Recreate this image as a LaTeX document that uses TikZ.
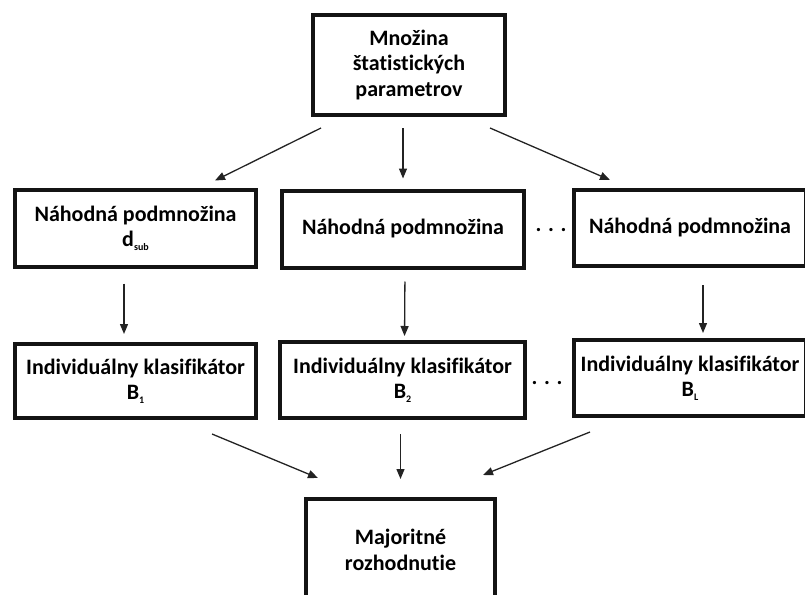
\documentclass[tikz,border=0pt]{standalone}
\usepackage{fontspec}
\setmainfont{Carlito}[Ligatures=NoCommon]
\usetikzlibrary{arrows.meta,calc}

\definecolor{boxline}{RGB}{20,20,20}
\definecolor{arrowline}{RGB}{35,35,35}

\newcommand{\lowidx}[1]{\raisebox{-0.35ex}{\fontsize{10}{10}\selectfont #1}}

\begin{document}
\begin{tikzpicture}[
  x=1pt, y=-1pt,
  stage/.style={
    rectangle,
    draw=boxline,
    line width=4pt,
    minimum width=242pt,
    minimum height=77pt,
    inner sep=0pt,
    align=center,
    font=\fontsize{22}{25.5}\selectfont\bfseries
  },
  flow/.style={
    draw=arrowline,
    line width=1.3pt,
    -{Triangle[length=10pt,width=8pt]}
  },
  gap/.style={
    font=\fontsize{22}{25.5}\selectfont\bfseries
  }
]
\useasboundingbox (0,0) rectangle (805,594);

\node[stage, minimum width=192pt, minimum height=100pt] (top) at (409,65) {Množina\\štatistických\\parametrov};

\node[stage, minimum width=241pt] (n1) at (135.5,228) {Náhodná podmnožina\\d\lowidx{sub}};
\node[stage] (n2) at (403,229) {Náhodná podmnožina};
\node[stage, minimum width=232pt, minimum height=76pt] (n3) at (690,228) {Náhodná podmnožina};
\node[gap] (dots1) at (551,230) {. . .};

\node[stage, minimum width=241pt, minimum height=74pt] (k1) at (135.5,381) {Individuálny klasifikátor\\B\lowidx{1}};
\node[stage, minimum width=245pt, minimum height=76pt] (k2) at (402.5,380) {Individuálny klasifikátor\\B\lowidx{2}};
\node[stage, minimum width=232pt, minimum height=76pt] (k3) at (690,378) {Individuálny klasifikátor\\B\lowidx{L}};
\node[gap] (dots2) at (547,383) {. . .};

\node[stage, minimum width=189pt, minimum height=102pt] (maj) at (400.5,550) {Majoritné\\rozhodnutie};

\draw[flow] ($(top.south)+(-88,11)$) -- ($(n1.north)+(79.5,-7)$);
\draw[flow, shorten <=11pt, shorten >=10pt] (top.south -| n2) -- (n2.north);
\draw[flow] ($(top.south)+(81,11)$) -- ($(n3.north)+(-80,-8)$);

\draw[flow, shorten <=15pt, shorten >=8pt] ([xshift=-11.5pt]n1.south) -- ([xshift=-11.5pt]k1.north);
\draw[flow, shorten <=12pt, shorten >=4pt] ([xshift=2pt]n2.south) -- ([xshift=2pt]k2.north);
\draw[flow, shorten <=17pt, shorten >=5pt] ([xshift=13pt]n3.south) -- ([xshift=13pt]k3.north);

\draw[flow] ($(k1.south)+(76.5,14)$) -- ($(maj.north)+(-82.5,-19)$);
\draw[flow, shorten <=14pt, shorten >=18pt] (k2.south -| maj) -- (maj.north);
\draw[flow] ($(k3.south)+(-100,14)$) -- ($(maj.north)+(82.5,-22)$);
\end{tikzpicture}
\end{document}
